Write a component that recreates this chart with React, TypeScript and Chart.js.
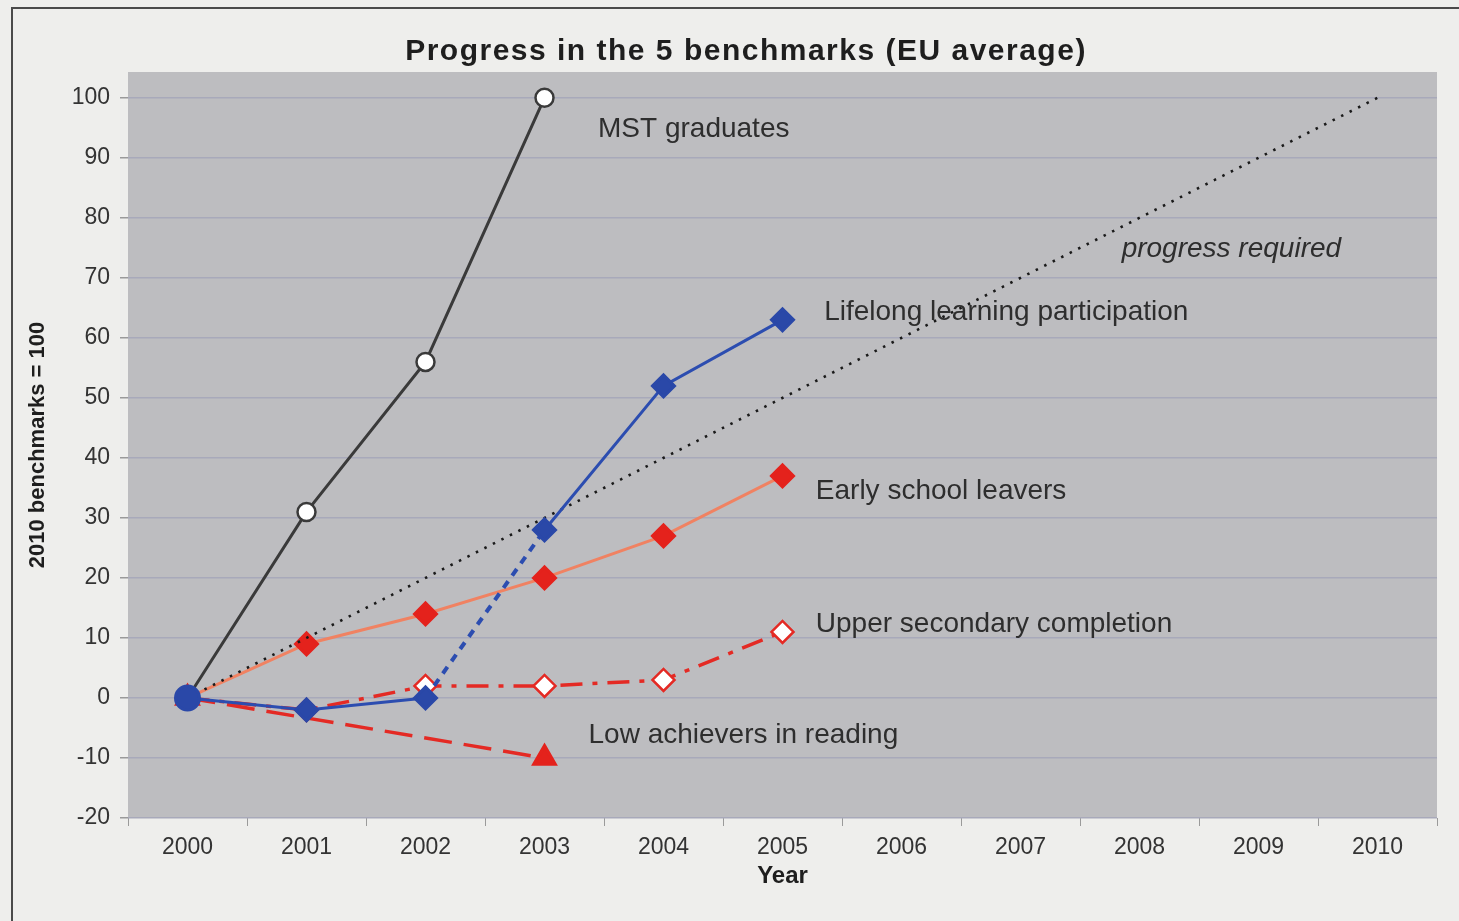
import React, { useEffect, useRef } from 'react';
import { Chart, registerables } from 'chart.js';

Chart.register(...registerables);

const years = ['2000', '2001', '2002', '2003', '2004', '2005', '2006', '2007', '2008', '2009', '2010'];
const mstGraduates = [0, 31, 56, 100, null, null, null, null, null, null, null];
const lifelongLearning = [0, -2, 0, 28, 52, 63, null, null, null, null, null];
const earlySchoolLeavers = [0, 9, 14, 20, 27, 37, null, null, null, null, null];
const upperSecondary = [0, -2, 2, 2, 3, 11, null, null, null, null, null];
const lowAchievers = [0, null, null, -10, null, null, null, null, null, null, null];
const progressRequired = [0, null, null, null, null, null, null, null, null, null, 100];

const yMin = -20;
const yMax = 104.3;
const yTickValues = [-20, -10, 0, 10, 20, 30, 40, 50, 60, 70, 80, 90, 100];

const titleText = 'Progress in the 5 benchmarks (EU average)';
const yTitle = '2010 benchmarks = 100';
const xTitle = 'Year';

// text annotations: [text, category position, value, italic]
const seriesLabels: [string, number, number, boolean][] = [
  ['MST graduates', 3.45, 94.7, false],
  ['progress required', 7.85, 74.7, true],
  ['Lifelong learning participation', 5.35, 64.3, false],
  ['Early school leavers', 5.28, 34.5, false],
  ['Upper secondary completion', 5.28, 12.2, false],
  ['Low achievers in reading', 3.37, -6.2, false],
];

const FONT = '"Liberation Sans", Arial, Helvetica, sans-serif';

const bgPlugin = {
  id: 'bgPlugin',
  beforeDraw(chart: any) {
    const { ctx, chartArea: a, width, height } = chart;
    ctx.save();
    ctx.fillStyle = '#eeeeec';
    ctx.fillRect(0, 0, width, height);
    ctx.fillStyle = '#bdbdc0';
    ctx.fillRect(a.left, a.top, a.right - a.left, a.bottom - a.top);
    ctx.strokeStyle = '#4a4a4a';
    ctx.lineWidth = 2;
    ctx.beginPath();
    ctx.moveTo(12, height);
    ctx.lineTo(12, 8);
    ctx.lineTo(width, 8);
    ctx.stroke();
    // chart title
    ctx.fillStyle = '#1e1e1e';
    ctx.font = 'bold 30px ' + FONT;
    ctx.textAlign = 'center';
    ctx.textBaseline = 'middle';
    (ctx as any).letterSpacing = '1.5px';
    ctx.fillText(titleText, 746, 52);
    (ctx as any).letterSpacing = '0px';
    ctx.restore();
  },
};

const labelPlugin = {
  id: 'labelPlugin',
  afterDatasetsDraw(chart: any) {
    const { ctx } = chart;
    const xs = chart.scales.x;
    const ys = chart.scales.y;
    ctx.save();
    ctx.fillStyle = '#2e2e2e';
    ctx.textBaseline = 'middle';
    ctx.textAlign = 'left';
    seriesLabels.forEach(([text, xv, yv, italic]) => {
      ctx.font = (italic ? 'italic ' : '') + '28px ' + FONT;
      ctx.fillText(text, xs.getPixelForValue(xv), ys.getPixelForValue(yv));
    });
    ctx.restore();
  },
};

export default function App() {
  const ref = useRef<HTMLCanvasElement>(null);

  useEffect(() => {
    if (!ref.current) return;
    const chart = new Chart(ref.current, {
      type: 'line',
      data: {
        labels: years,
        datasets: [
          {
            label: 'Lifelong learning participation',
            data: lifelongLearning,
            borderColor: '#2c4db0',
            backgroundColor: '#2a48a8',
            borderWidth: 3,
            pointStyle: ['circle', 'rectRot', 'rectRot', 'rectRot', 'rectRot', 'rectRot'],
            pointRadius: [12, 11, 11, 11, 11, 11],
            pointBorderColor: '#2a48a8',
            pointBackgroundColor: '#2a48a8',
            segment: {
              borderDash: (c: any) => (c.p0DataIndex === 2 ? [8, 7] : undefined),
              borderWidth: (c: any) => (c.p0DataIndex === 2 ? 4 : 3),
            },
          },
          {
            label: 'progress required',
            data: progressRequired,
            borderColor: '#1a1a1a',
            borderWidth: 2.6,
            borderDash: [2.5, 7],
            pointRadius: 0,
            spanGaps: true,
          },
          {
            label: 'Early school leavers',
            data: earlySchoolLeavers,
            borderColor: '#f08262',
            borderWidth: 3,
            pointStyle: 'rectRot',
            pointRadius: 11,
            pointBackgroundColor: '#e4221c',
            pointBorderColor: '#e4221c',
          },
          {
            label: 'MST graduates',
            data: mstGraduates,
            borderColor: '#3a3a3a',
            borderWidth: 3,
            pointStyle: 'circle',
            pointRadius: 9,
            pointBackgroundColor: '#ffffff',
            pointBorderColor: '#3a3a3a',
            pointBorderWidth: 2.5,
          },
          {
            label: 'Upper secondary completion',
            data: upperSecondary,
            borderColor: '#e42a24',
            borderWidth: 3.5,
            borderDash: [22, 10, 5, 10],
            pointStyle: 'rectRot',
            pointRadius: 11,
            pointBackgroundColor: '#ffffff',
            pointBorderColor: '#e42a24',
            pointBorderWidth: 2.5,
          },
          {
            label: 'Low achievers in reading',
            data: lowAchievers,
            borderColor: '#e42a24',
            borderWidth: 3.5,
            borderDash: [28, 12],
            pointStyle: 'triangle',
            pointRadius: 12,
            pointBackgroundColor: '#e4221c',
            pointBorderColor: '#e4221c',
            spanGaps: true,
          },
        ],
      },
      options: {
        responsive: false,
        animation: false,
        layout: { padding: { left: 0, right: 22, top: 72, bottom: 0 } },
        plugins: {
          legend: { display: false },
          tooltip: { enabled: false },
          title: { display: false },
        },
        scales: {
          x: {
            type: 'category',
            offset: true,
            grid: {
              offset: true,
              drawOnChartArea: false,
              drawTicks: true,
              tickLength: 8,
              tickColor: '#9a9a9a',
            },
            border: { display: false },
            ticks: {
              color: '#333333',
              padding: 8,
              maxRotation: 0,
              font: { family: FONT, size: 23 },
            },
            title: {
              display: true,
              text: xTitle,
              color: '#1e1e1e',
              font: { family: FONT, size: 24, weight: 'bold', lineHeight: 1.2 },
              padding: { top: 0, bottom: 30 },
            },
            afterFit(scale: any) {
              scale.height = 103;
            },
          },
          y: {
            type: 'linear',
            min: yMin,
            max: yMax,
            grid: {
              color: '#a8a9ba',
              lineWidth: 1.5,
              tickLength: 8,
              tickColor: '#9a9a9a',
            },
            border: { display: false },
            ticks: {
              autoSkip: false,
              color: '#333333',
              padding: 10,
              font: { family: FONT, size: 23 },
              callback: (v: any) => String(Math.round(v)),
            },
            afterBuildTicks(scale: any) {
              scale.ticks = yTickValues.map((v) => ({ value: v }));
            },
            title: {
              display: true,
              text: yTitle,
              color: '#1e1e1e',
              font: { family: FONT, size: 22, weight: 'bold', lineHeight: 1.2 },
              padding: { top: 25, bottom: 0 },
            },
            afterFit(scale: any) {
              scale.width = 128;
            },
          },
        },
      },
      plugins: [bgPlugin, labelPlugin],
    } as any);
    return () => chart.destroy();
  }, []);

  return (
    <div style={{ position: 'absolute', left: 0, top: 0, width: 1459, height: 921, overflow: 'hidden' }}>
      <canvas ref={ref} width={1459} height={921} style={{ display: 'block' }} />
    </div>
  );
}
